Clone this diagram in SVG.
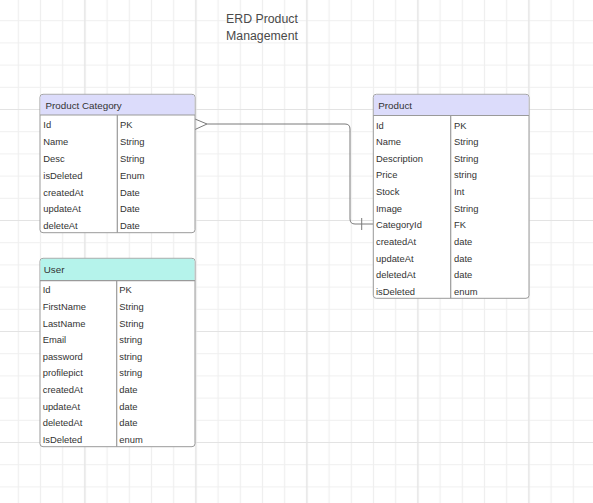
<svg xmlns="http://www.w3.org/2000/svg" width="593" height="503" viewBox="0 0 593 503">
<style>
  text { font-family: "Liberation Sans", Arial, sans-serif; fill: #333; }
  .title { font-size: 12.3px; fill: #4a4a4a; text-anchor: middle; }
  .hd { font-size: 9.8px; }
  .r { font-size: 9.4px; }
  .box { fill: #fff; stroke: #9a9a9a; stroke-width: 1; }
  .sep { stroke: #9a9a9a; stroke-width: 1.2; fill: none; }
  .lav { fill: #dcdcfb; }
  .cyan { fill: #b5f3eb; }
  .conn { fill: none; stroke: #7a7a7a; stroke-width: 1; }
</style>
<defs>
  <pattern id="minor" patternUnits="userSpaceOnUse" x="7.2" y="9.6" width="22.2" height="22.2">
    <path d="M11.1 0V22.2M0 11.1H22.2" stroke="#efefef" stroke-width="1.2" fill="none"/>
  </pattern>
  <pattern id="major" patternUnits="userSpaceOnUse" x="29.4" y="54" width="111" height="111">
    <path d="M55.5 0V111M0 55.5H111" stroke="#e3e3e3" stroke-width="1.2" fill="none"/>
  </pattern>
</defs>
<rect width="593" height="503" fill="#fff"/>
<rect width="593" height="503" fill="url(#minor)"/>
<rect width="593" height="503" fill="url(#major)"/>

<g id="title">
  <text class="title" x="262" y="22.5">ERD Product</text>
  <text class="title" x="262" y="39.5">Management</text>
</g>

<g id="connectors">
  <path class="conn" d="M195 119 L207 124 L195 129.5"/>
  <path class="conn" d="M207 124 H345 Q350 124 350 129 V219 Q350 224 355 224 H373"/>
  <path class="conn" d="M361.7 218 V230"/>
</g>

<g id="product-category">
  <rect class="box" x="40" y="94.3" width="155" height="138.4" rx="3"/>
  <path class="lav" d="M43 94.8 H192 Q194.5 94.8 194.5 97.3 V115 H40.5 V97.3 Q40.5 94.8 43 94.8 Z"/>
  <path class="sep" d="M40 115 H195 M117.3 115 V232.7"/>
  <text class="hd" x="45.5" y="109.2">Product Category</text>
  <text class="r" x="43.3" y="128.3">Id</text><text class="r" x="120" y="128.3">PK</text>
  <text class="r" x="43.3" y="145.1">Name</text><text class="r" x="120" y="145.1">String</text>
  <text class="r" x="43.3" y="161.9">Desc</text><text class="r" x="120" y="161.9">String</text>
  <text class="r" x="43.3" y="178.7">isDeleted</text><text class="r" x="120" y="178.7">Enum</text>
  <text class="r" x="43.3" y="195.5">createdAt</text><text class="r" x="120" y="195.5">Date</text>
  <text class="r" x="43.3" y="212.3">updateAt</text><text class="r" x="120" y="212.3">Date</text>
  <text class="r" x="43.3" y="229.1">deleteAt</text><text class="r" x="120" y="229.1">Date</text>
</g>

<g id="product">
  <rect class="box" x="373.3" y="94.3" width="155.7" height="204" rx="3"/>
  <path class="lav" d="M376.3 94.8 H526 Q528.5 94.8 528.5 97.3 V115.5 H373.8 V97.3 Q373.8 94.8 376.3 94.8 Z"/>
  <path class="sep" d="M373.3 115.5 H529 M450.7 115.5 V298.3"/>
  <text class="hd" x="378.3" y="109.2">Product</text>
  <text class="r" x="376" y="128.5">Id</text><text class="r" x="454" y="128.5">PK</text>
  <text class="r" x="376" y="145.1">Name</text><text class="r" x="454" y="145.1">String</text>
  <text class="r" x="376" y="161.8">Description</text><text class="r" x="454" y="161.8">String</text>
  <text class="r" x="376" y="178.4">Price</text><text class="r" x="454" y="178.4">string</text>
  <text class="r" x="376" y="195.1">Stock</text><text class="r" x="454" y="195.1">Int</text>
  <text class="r" x="376" y="211.7">Image</text><text class="r" x="454" y="211.7">String</text>
  <text class="r" x="376" y="228.4">CategoryId</text><text class="r" x="454" y="228.4">FK</text>
  <text class="r" x="376" y="245">createdAt</text><text class="r" x="454" y="245">date</text>
  <text class="r" x="376" y="261.7">updateAt</text><text class="r" x="454" y="261.7">date</text>
  <text class="r" x="376" y="278.3">deletedAt</text><text class="r" x="454" y="278.3">date</text>
  <text class="r" x="376" y="295">isDeleted</text><text class="r" x="454" y="295">enum</text>
</g>

<g id="user">
  <rect class="box" x="40" y="258.3" width="155" height="188.4" rx="3"/>
  <path class="cyan" d="M43 258.8 H192 Q194.5 258.8 194.5 261.3 V280.7 H40.5 V261.3 Q40.5 258.8 43 258.8 Z"/>
  <path class="sep" d="M40 280.7 H195 M116.7 280.7 V446.7"/>
  <text class="hd" x="43.8" y="272.8">User</text>
  <text class="r" x="42.7" y="293.3">Id</text><text class="r" x="119.3" y="293.3">PK</text>
  <text class="r" x="42.7" y="309.9">FirstName</text><text class="r" x="119.3" y="309.9">String</text>
  <text class="r" x="42.7" y="326.5">LastName</text><text class="r" x="119.3" y="326.5">String</text>
  <text class="r" x="42.7" y="343.1">Email</text><text class="r" x="119.3" y="343.1">string</text>
  <text class="r" x="42.7" y="359.7">password</text><text class="r" x="119.3" y="359.7">string</text>
  <text class="r" x="42.7" y="376.3">profilepict</text><text class="r" x="119.3" y="376.3">string</text>
  <text class="r" x="42.7" y="392.9">createdAt</text><text class="r" x="119.3" y="392.9">date</text>
  <text class="r" x="42.7" y="409.5">updateAt</text><text class="r" x="119.3" y="409.5">date</text>
  <text class="r" x="42.7" y="426.1">deletedAt</text><text class="r" x="119.3" y="426.1">date</text>
  <text class="r" x="42.7" y="442.7">IsDeleted</text><text class="r" x="119.3" y="442.7">enum</text>
</g>
</svg>
